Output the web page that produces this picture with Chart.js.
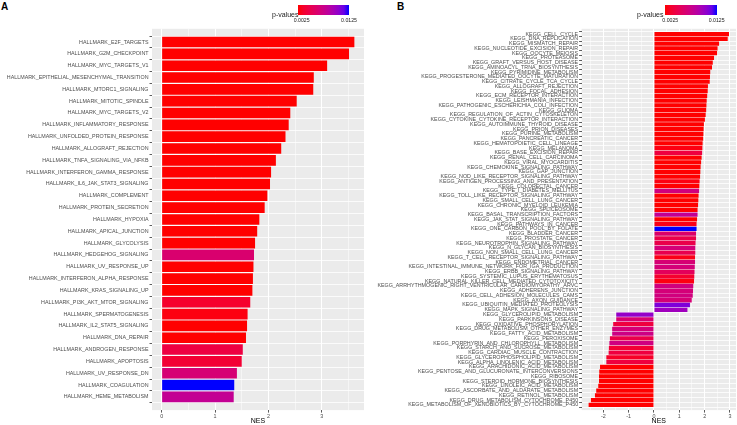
<!DOCTYPE html>
<html>
<head>
<meta charset="utf-8">
<script src="https://cdn.jsdelivr.net/npm/chart.js@4.4.1/dist/chart.umd.min.js"></script>
<style>
  body { margin: 0; width: 737px; height: 425px; background: #fff; overflow: hidden; position: relative; font-family: "Liberation Sans", Arial, sans-serif; }
  canvas { position: absolute; top: 0; }
  #chartA { left: 0; }
  #chartB { left: 372px; }
  .tag { position: absolute; top: 1px; font-weight: bold; font-size: 10px; color: #000; }
  .txt { position: absolute; color: #1a1a1a; white-space: nowrap; line-height: 1; }
  .bar { position: absolute; }
  .ctr { transform: translateX(-50%); }
</style>
</head>
<body>
<div class="tag" style="left:1px">A</div>
<div class="tag" style="left:397px">B</div>

<canvas id="chartA" width="372" height="425"></canvas>
<canvas id="chartB" width="365" height="425"></canvas>

<!-- p-value colour bars -->
<div class="txt" style="left:272px;top:11px;font-size:7px">p-values</div>
<div class="bar" id="barA" style="left:297.5px;top:5px;width:51.5px;height:10px"></div>
<div class="txt ctr" style="left:301.7px;top:17.5px;font-size:5.2px">0.0025</div>
<div class="txt ctr" style="left:349px;top:17.5px;font-size:5.2px">0.0125</div>

<div class="txt" style="left:637px;top:11px;font-size:7px">p-values</div>
<div class="bar" id="barB" style="left:665px;top:4.5px;width:51.7px;height:10.5px"></div>
<div class="txt ctr" style="left:670.3px;top:17.5px;font-size:5.2px">0.0025</div>
<div class="txt ctr" style="left:716.7px;top:17.5px;font-size:5.2px">0.0125</div>

<script>
// ---- Panel A: hallmark gene sets ----
const hallmarkLabels = [
  'HALLMARK_E2F_TARGETS', 'HALLMARK_G2M_CHECKPOINT', 'HALLMARK_MYC_TARGETS_V1',
  'HALLMARK_EPITHELIAL_MESENCHYMAL_TRANSITION', 'HALLMARK_MTORC1_SIGNALING', 'HALLMARK_MITOTIC_SPINDLE',
  'HALLMARK_MYC_TARGETS_V2', 'HALLMARK_INFLAMMATORY_RESPONSE', 'HALLMARK_UNFOLDED_PROTEIN_RESPONSE',
  'HALLMARK_ALLOGRAFT_REJECTION', 'HALLMARK_TNFA_SIGNALING_VIA_NFKB', 'HALLMARK_INTERFERON_GAMMA_RESPONSE',
  'HALLMARK_IL6_JAK_STAT3_SIGNALING', 'HALLMARK_COMPLEMENT', 'HALLMARK_PROTEIN_SECRETION',
  'HALLMARK_HYPOXIA', 'HALLMARK_APICAL_JUNCTION', 'HALLMARK_GLYCOLYSIS',
  'HALLMARK_HEDGEHOG_SIGNALING', 'HALLMARK_UV_RESPONSE_UP', 'HALLMARK_INTERFERON_ALPHA_RESPONSE',
  'HALLMARK_KRAS_SIGNALING_UP', 'HALLMARK_PI3K_AKT_MTOR_SIGNALING', 'HALLMARK_SPERMATOGENESIS',
  'HALLMARK_IL2_STAT5_SIGNALING', 'HALLMARK_DNA_REPAIR', 'HALLMARK_ANDROGEN_RESPONSE',
  'HALLMARK_APOPTOSIS', 'HALLMARK_UV_RESPONSE_DN', 'HALLMARK_COAGULATION', 'HALLMARK_HEME_METABOLISM'
];
const hallmarkNES = [
  3.61, 3.51, 3.10, 2.85, 2.84, 2.53, 2.41, 2.38, 2.32,
  2.24, 2.14, 2.05, 2.03, 1.98, 1.93, 1.83, 1.79, 1.75,
  1.73, 1.72, 1.71, 1.70, 1.66, 1.61, 1.60, 1.58, 1.52,
  1.50, 1.41, 1.36, 1.35
];
const hallmarkP = [
  0.0015, 0.0015, 0.0015, 0.0015, 0.0015, 0.0015, 0.0015, 0.0015, 0.0015,
  0.0015, 0.0015, 0.0015, 0.0015, 0.0015, 0.0015, 0.0015, 0.0015, 0.0015,
  0.0057, 0.0015, 0.0015, 0.0015, 0.0027, 0.0018, 0.0015, 0.0015, 0.0036,
  0.0030, 0.0060, 0.0125, 0.0075
];

// ---- Panel B: KEGG gene sets ----
const keggLabels = [
  'KEGG_CELL_CYCLE', 'KEGG_DNA_REPLICATION', 'KEGG_MISMATCH_REPAIR', 'KEGG_NUCLEOTIDE_EXCISION_REPAIR',
  'KEGG_OOCYTE_MEIOSIS', 'KEGG_PROTEASOME', 'KEGG_GRAFT_VERSUS_HOST_DISEASE', 'KEGG_AMINOACYL_TRNA_BIOSYNTHESIS',
  'KEGG_PYRIMIDINE_METABOLISM', 'KEGG_PROGESTERONE_MEDIATED_OOCYTE_MATURATION', 'KEGG_CITRATE_CYCLE_TCA_CYCLE',
  'KEGG_ALLOGRAFT_REJECTION', 'KEGG_FOCAL_ADHESION', 'KEGG_ECM_RECEPTOR_INTERACTION', 'KEGG_LEISHMANIA_INFECTION',
  'KEGG_PATHOGENIC_ESCHERICHIA_COLI_INFECTION', 'KEGG_GLIOMA', 'KEGG_REGULATION_OF_ACTIN_CYTOSKELETON',
  'KEGG_CYTOKINE_CYTOKINE_RECEPTOR_INTERACTION', 'KEGG_AUTOIMMUNE_THYROID_DISEASE', 'KEGG_PRION_DISEASES',
  'KEGG_PURINE_METABOLISM', 'KEGG_PANCREATIC_CANCER', 'KEGG_HEMATOPOIETIC_CELL_LINEAGE', 'KEGG_MELANOMA',
  'KEGG_BASE_EXCISION_REPAIR', 'KEGG_RENAL_CELL_CARCINOMA', 'KEGG_VIRAL_MYOCARDITIS',
  'KEGG_CHEMOKINE_SIGNALING_PATHWAY', 'KEGG_GAP_JUNCTION', 'KEGG_NOD_LIKE_RECEPTOR_SIGNALING_PATHWAY',
  'KEGG_ANTIGEN_PROCESSING_AND_PRESENTATION', 'KEGG_COLORECTAL_CANCER', 'KEGG_TYPE_I_DIABETES_MELLITUS',
  'KEGG_TOLL_LIKE_RECEPTOR_SIGNALING_PATHWAY', 'KEGG_SMALL_CELL_LUNG_CANCER', 'KEGG_CHRONIC_MYELOID_LEUKEMIA',
  'KEGG_SPLICEOSOME', 'KEGG_BASAL_TRANSCRIPTION_FACTORS', 'KEGG_JAK_STAT_SIGNALING_PATHWAY',
  'KEGG_PATHWAYS_IN_CANCER', 'KEGG_ONE_CARBON_POOL_BY_FOLATE', 'KEGG_BLADDER_CANCER', 'KEGG_PROSTATE_CANCER',
  'KEGG_NEUROTROPHIN_SIGNALING_PATHWAY', 'KEGG_N_GLYCAN_BIOSYNTHESIS', 'KEGG_NON_SMALL_CELL_LUNG_CANCER',
  'KEGG_T_CELL_RECEPTOR_SIGNALING_PATHWAY', 'KEGG_ENDOMETRIAL_CANCER',
  'KEGG_INTESTINAL_IMMUNE_NETWORK_FOR_IGA_PRODUCTION', 'KEGG_ERBB_SIGNALING_PATHWAY',
  'KEGG_SYSTEMIC_LUPUS_ERYTHEMATOSUS', 'KEGG_NATURAL_KILLER_CELL_MEDIATED_CYTOTOXICITY',
  'KEGG_ARRHYTHMOGENIC_RIGHT_VENTRICULAR_CARDIOMYOPATHY_ARVC', 'KEGG_ADHERENS_JUNCTION',
  'KEGG_CELL_ADHESION_MOLECULES_CAMS', 'KEGG_AXON_GUIDANCE', 'KEGG_UBIQUITIN_MEDIATED_PROTEOLYSIS',
  'KEGG_MAPK_SIGNALING_PATHWAY', 'KEGG_GLYCEROLIPID_METABOLISM', 'KEGG_PARKINSONS_DISEASE',
  'KEGG_OXIDATIVE_PHOSPHORYLATION', 'KEGG_DRUG_METABOLISM_OTHER_ENZYMES', 'KEGG_FATTY_ACID_METABOLISM',
  'KEGG_PEROXISOME', 'KEGG_PORPHYRIN_AND_CHLOROPHYLL_METABOLISM', 'KEGG_STARCH_AND_SUCROSE_METABOLISM',
  'KEGG_CARDIAC_MUSCLE_CONTRACTION', 'KEGG_GLYCEROPHOSPHOLIPID_METABOLISM', 'KEGG_ALPHA_LINOLENIC_ACID_METABOLISM',
  'KEGG_ARACHIDONIC_ACID_METABOLISM', 'KEGG_PENTOSE_AND_GLUCURONATE_INTERCONVERSIONS', 'KEGG_RIBOSOME',
  'KEGG_STEROID_HORMONE_BIOSYNTHESIS', 'KEGG_LINOLEIC_ACID_METABOLISM', 'KEGG_ASCORBATE_AND_ALDARATE_METABOLISM',
  'KEGG_RETINOL_METABOLISM', 'KEGG_DRUG_METABOLISM_CYTOCHROME_P450',
  'KEGG_METABOLISM_OF_XENOBIOTICS_BY_CYTOCHROME_P450'
];
const keggNES = [
  2.96, 2.91, 2.57, 2.51, 2.49, 2.37, 2.32, 2.29, 2.22, 2.21,
  2.20, 2.13, 2.12, 2.10, 2.08, 2.07, 2.06, 2.04, 2.01, 1.97,
  1.96, 1.95, 1.94, 1.92, 1.91, 1.90, 1.88, 1.86, 1.84, 1.83,
  1.82, 1.80, 1.79, 1.78, 1.76, 1.75, 1.74, 1.72, 1.72, 1.70,
  1.68, 1.68, 1.66, 1.66, 1.64, 1.63, 1.63, 1.62, 1.62, 1.61,
  1.60, 1.59, 1.58, 1.55, 1.54, 1.53, 1.49, 1.42, 1.32,
  -1.49, -1.49, -1.61, -1.65, -1.65, -1.74, -1.76, -1.78, -1.79, -1.88,
  -1.88, -2.13, -2.16, -2.17, -2.17, -2.20, -2.28, -2.33, -2.49, -2.58
];
const keggP = [
  0.0015, 0.0015, 0.0015, 0.0015, 0.0015, 0.0015, 0.0015, 0.0015, 0.0015, 0.0015,
  0.0015, 0.0015, 0.0015, 0.0015, 0.0015, 0.0015, 0.0015, 0.0015, 0.0015, 0.0015,
  0.0015, 0.0015, 0.0015, 0.0015, 0.0018, 0.0035, 0.0015, 0.0015, 0.0015, 0.0015,
  0.0015, 0.0018, 0.0015, 0.0065, 0.0015, 0.0015, 0.0015, 0.0015, 0.0075, 0.0015,
  0.0020, 0.0125, 0.0055, 0.0040, 0.0040, 0.0062, 0.0042, 0.0020, 0.0060, 0.0062,
  0.0048, 0.0028, 0.0018, 0.0065, 0.0062, 0.0065, 0.0060, 0.0108, 0.0095,
  0.0100, 0.0058, 0.0035, 0.0062, 0.0068, 0.0040, 0.0066, 0.0030, 0.0035, 0.0025,
  0.0035, 0.0015, 0.0015, 0.0015, 0.0015, 0.0015, 0.0015, 0.0015, 0.0015, 0.0015
];

const pRange = [0.0015, 0.0125];

// red -> blue, interpolated in Lab like ggplot's gradient
function toLab([r, g, b]) {
  const lin = c => { c /= 255; return c <= 0.04045 ? c / 12.92 : Math.pow((c + 0.055) / 1.055, 2.4); };
  const R = lin(r), G = lin(g), B = lin(b);
  const X = (0.4124 * R + 0.3576 * G + 0.1805 * B) / 0.95047;
  const Y = 0.2126 * R + 0.7152 * G + 0.0722 * B;
  const Z = (0.0193 * R + 0.1192 * G + 0.9505 * B) / 1.08883;
  const f = t => t > 0.008856 ? Math.cbrt(t) : 7.787 * t + 16 / 116;
  return [116 * f(Y) - 16, 500 * (f(X) - f(Y)), 200 * (f(Y) - f(Z))];
}
function fromLab([L, a, b]) {
  const fy = (L + 16) / 116, fx = fy + a / 500, fz = fy - b / 200;
  const inv = t => t ** 3 > 0.008856 ? t ** 3 : (t - 16 / 116) / 7.787;
  const X = inv(fx) * 0.95047, Y = inv(fy), Z = inv(fz) * 1.08883;
  const R = 3.2406 * X - 1.5372 * Y - 0.4986 * Z;
  const G = -0.9689 * X + 1.8758 * Y + 0.0415 * Z;
  const B = 0.0557 * X - 0.2040 * Y + 1.0570 * Z;
  const gam = c => {
    c = c <= 0.0031308 ? 12.92 * c : 1.055 * Math.pow(c, 1 / 2.4) - 0.055;
    return Math.round(Math.max(0, Math.min(1, c)) * 255);
  };
  return [gam(R), gam(G), gam(B)];
}
const labLow = toLab([255, 0, 0]);
const labHigh = toLab([0, 0, 255]);

function gradColor(t) {
  t = Math.max(0, Math.min(1, t));
  const lab = labLow.map((v, i) => v + (labHigh[i] - v) * t);
  const [r, g, b] = fromLab(lab);
  return `rgb(${r},${g},${b})`;
}
function pColor(p) {
  return gradColor((p - pRange[0]) / (pRange[1] - pRange[0]));
}

// colour bar legends
const stops = [];
for (let i = 0; i <= 10; i++) stops.push(`${gradColor(i / 10)} ${i * 10}%`);
['barA', 'barB'].forEach(id => {
  document.getElementById(id).style.background = `linear-gradient(to right, ${stops.join(', ')})`;
});

// grey ggplot panel behind the grid
const panelBg = {
  id: 'panelBg',
  beforeDraw(chart) {
    const { ctx, chartArea: a } = chart;
    ctx.save();
    ctx.fillStyle = '#EBEBEB';
    ctx.fillRect(a.left, a.top, a.right - a.left, a.bottom - a.top);
    ctx.restore();
  }
};

function makePanel(canvasId, labels, nes, pvals, opts) {
  // ggplot-style 5% expansion around the data (including 0)
  const lo = Math.min(0, ...nes), hi = Math.max(0, ...nes);
  const pad = (hi - lo) * 0.05;
  const xTicks = [];
  for (let v = Math.ceil((lo - pad) * 2) / 2; v <= hi + pad; v += 0.5) xTicks.push(v);

  return new Chart(document.getElementById(canvasId), {
    type: 'bar',
    data: {
      datasets: [{
        data: nes.map((v, i) => ({ x: v, y: i })),
        backgroundColor: pvals.map(pColor),
        borderWidth: 0,
        categoryPercentage: 0.9,
        barPercentage: 1.0
      }]
    },
    options: {
      indexAxis: 'y',
      responsive: false,
      animation: false,
      layout: { padding: { top: 28.8, right: opts.padRight, bottom: 0, left: 0 } },
      plugins: { legend: { display: false }, tooltip: { enabled: false } },
      scales: {
        x: {
          type: 'linear',
          min: lo - pad,
          max: hi + pad,
          afterBuildTicks: s => { s.ticks = xTicks.map(v => ({ value: v })); },
          afterFit: s => { s.height = 14.9; },
          border: { display: false },
          grid: {
            color: '#FFFFFF',
            lineWidth: c => Number.isInteger(c.tick.value) ? 1 : 0.5,
            tickColor: c => Number.isInteger(c.tick.value) ? '#333333' : 'rgba(0,0,0,0)',
            tickLength: 2.5,
            tickWidth: 0.8
          },
          ticks: {
            autoSkip: false,
            maxRotation: 0,
            padding: 0.5,
            color: '#4D4D4D',
            font: { family: 'Liberation Sans', size: 5.4 },
            callback: v => Number.isInteger(v) ? String(v) : ''
          },
          title: {
            display: true,
            text: 'NES',
            color: '#000000',
            padding: 0,
            font: { family: 'Liberation Sans', size: 7, lineHeight: 1 }
          }
        },
        y: {
          type: 'linear',
          reverse: true,
          min: -0.6,
          max: labels.length - 0.4,
          afterBuildTicks: s => { s.ticks = labels.map((_, i) => ({ value: i })); },
          afterFit: s => { s.width = opts.axisWidth; },
          border: { display: false },
          grid: {
            color: '#FFFFFF',
            lineWidth: opts.hLine,
            tickColor: '#333333',
            tickLength: 2.5,
            tickWidth: 0.8
          },
          ticks: {
            autoSkip: false,
            padding: 1,
            color: '#4D4D4D',
            font: { family: 'Liberation Sans', size: 5.35 },
            callback: v => labels[v]
          }
        }
      }
    },
    plugins: [panelBg]
  });
}

makePanel('chartA', hallmarkLabels, hallmarkNES, hallmarkP, { axisWidth: 152, padRight: 8, hLine: 0.8 });
makePanel('chartB', keggLabels, keggNES, keggP, { axisWidth: 209.6, padRight: 1, hLine: 0.8 });
</script>
</body>
</html>
